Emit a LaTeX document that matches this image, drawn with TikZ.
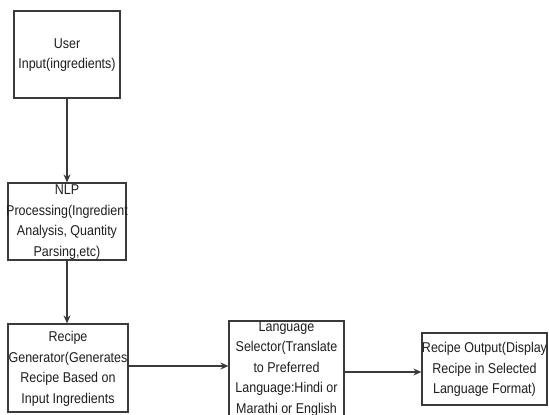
\documentclass[tikz,border=0pt]{standalone}
\usepackage{fontspec}
\setmainfont{Liberation Sans}[FakeStretch=0.88]
\usetikzlibrary{arrows.meta}
\definecolor{linec}{HTML}{3A3A3A}
\definecolor{textc}{HTML}{1E1E1E}
\tikzset{
  box/.style={draw=linec, line width=1.2pt, fill=white, inner sep=0pt},
  lbl/.style={inner sep=0pt, align=center, text=textc, font=\fontsize{14.2}{20.5}\selectfont},
  conn/.style={draw=linec, line width=1.2pt, -{Stealth[length=8pt,width=7pt]}}
}
\begin{document}
\begin{tikzpicture}[x=1pt,y=-1pt]
\useasboundingbox[fill=white] (0,0) rectangle (549,415);
\node[box, minimum width=106pt, minimum height=87pt] (b1) at (67,54.5) {};
\node[box, minimum width=118pt, minimum height=77pt] (b2) at (67,221.5) {};
\node[box, minimum width=120pt, minimum height=88pt] (b3) at (68,368) {};
\node[box, minimum width=115pt, minimum height=96pt] (b4) at (286.5,369) {};
\node[box, minimum width=125pt, minimum height=72pt] (b5) at (484.5,369) {};
\node[lbl] (t1) at (67,55) {User\\Input(ingredients)};
\node[lbl] (t2) at (67,222) {NLP\\Processing(Ingredient\\Analysis, Quantity\\Parsing,etc)};
\node[lbl] (t3) at (68,369) {Recipe\\Generator(Generates\\Recipe Based on\\Input Ingredients};
\node[lbl] (t4) at (286.5,369) {Language\\Selector(Translate\\to Preferred\\Language:Hindi or\\Marathi or English};
\node[lbl] (t5) at (484.5,369.5) {Recipe Output(Display\\Recipe in Selected\\Language Format)};
\draw[conn] (b1.south) -- (b2.north);
\draw[conn] (b2.south) -- (b2.south |- b3.north);
\draw[conn] ([yshift=2pt]b3.east) -- ([yshift=2pt]b3.east -| b4.west);
\draw[conn] ([yshift=-3pt]b4.east) -- ([yshift=-3pt]b4.east -| b5.west);
\end{tikzpicture}
\end{document}
